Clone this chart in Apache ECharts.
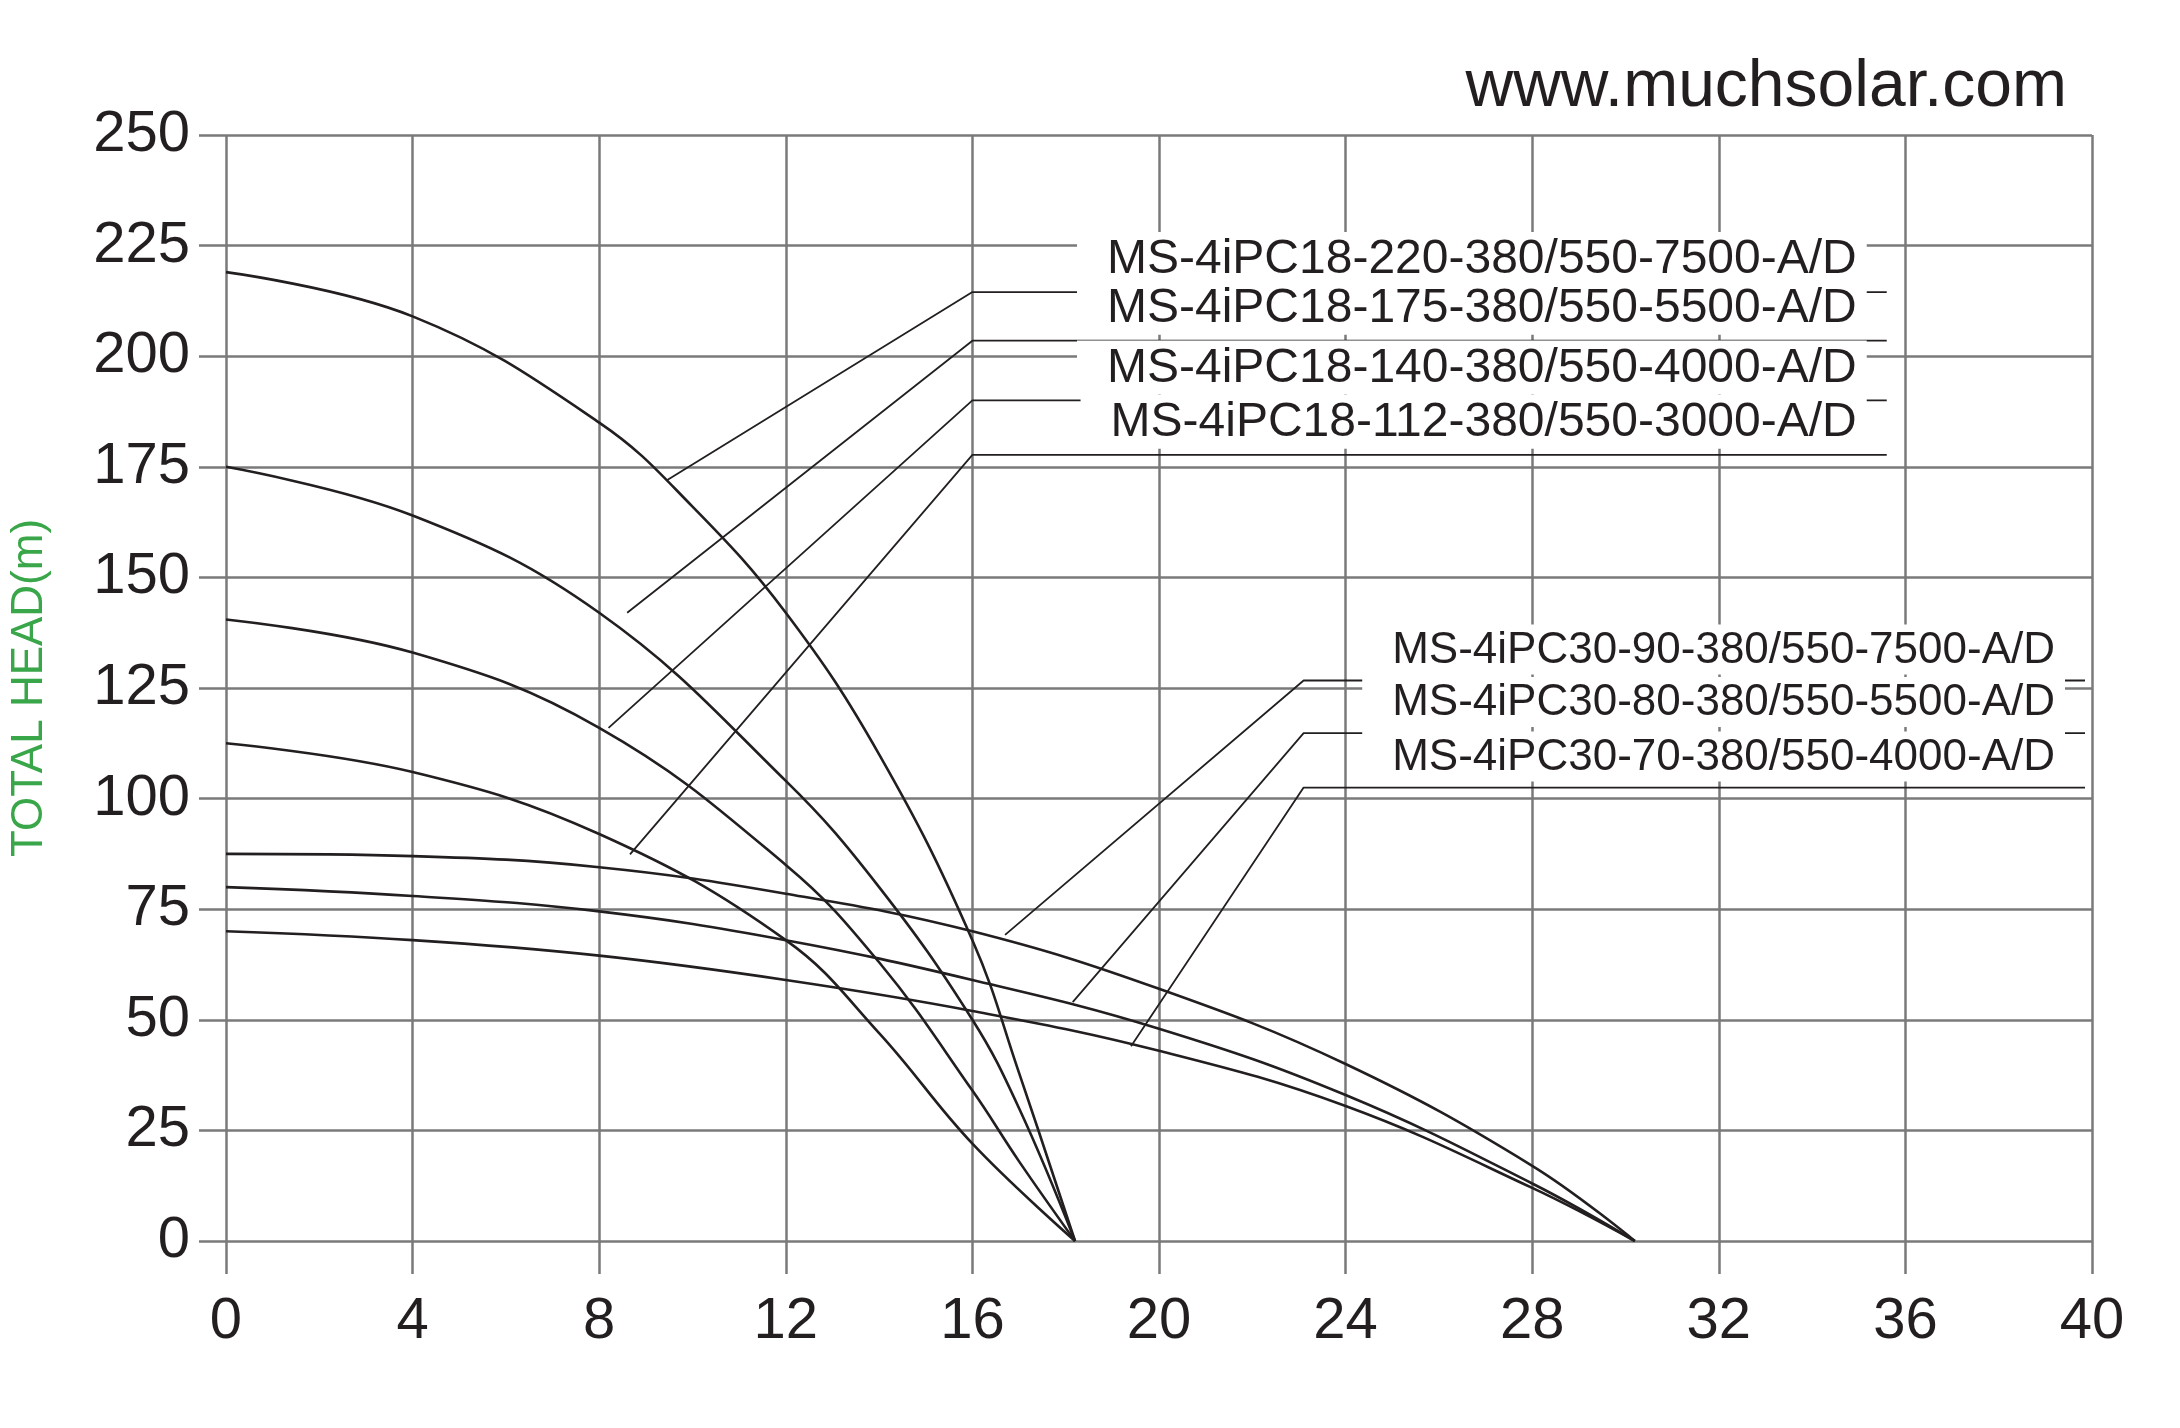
<!DOCTYPE html>
<html>
<head>
<meta charset="utf-8">
<script src="https://cdn.jsdelivr.net/npm/echarts@6/dist/echarts.min.js"></script>
<style>html,body{margin:0;padding:0;background:#fff}#main{width:2180px;height:1428px}</style>
</head>
<body>
<div id="main"></div>
<script>
// pump curves: flow (x) vs total head (m)
const xTicks = [0, 4, 8, 12, 16, 20, 24, 28, 32, 36, 40];
const yTicks = [0, 25, 50, 75, 100, 125, 150, 175, 200, 225, 250];

const names = [
    'MS-4iPC18-220-380/550-7500-A/D',
    'MS-4iPC18-175-380/550-5500-A/D',
    'MS-4iPC18-140-380/550-4000-A/D',
    'MS-4iPC18-112-380/550-3000-A/D',
    'MS-4iPC30-90-380/550-7500-A/D',
    'MS-4iPC30-80-380/550-5500-A/D',
    'MS-4iPC30-70-380/550-4000-A/D'
];

const curve220 = [[0, 219], [4, 209], [8, 185], [10, 166], [12, 142], [14, 110], [16, 68], [17, 38], [18.2, 0]];
const curve175 = [[0, 175], [4, 164], [8, 142], [12, 104], [14, 80], [16, 50], [17, 30], [18.2, 0]];
const curve140 = [[0, 140.5], [4, 133], [8, 116], [12, 85], [14, 63], [16, 34], [17, 18], [18.2, 0]];
const curve112 = [[0, 112.5], [4, 106], [8, 92], [12, 68], [14, 47], [16, 22], [18.2, 0]];
const curve90 = [[0, 87.5], [4, 87], [8, 84.5], [12, 78.5], [16, 70], [20, 57], [24, 40], [28, 17], [30.2, 0]];
const curve80 = [[0, 80], [4, 78], [8, 74.5], [12, 68], [16, 59], [20, 48], [24, 33], [28, 13], [30.2, 0]];
const curve70 = [[0, 70], [4, 68], [8, 64.5], [12, 59], [16, 52], [20, 43], [24, 30.5], [28, 12], [30.2, 0]];
const curves = [curve220, curve175, curve140, curve112, curve90, curve80, curve70];

// leader lines: [point on curve, elbow, end of underline]
const leaders = [
    [[9.46, 172], [16.0, 214.5], [35.6, 214.5]],
    [[8.6, 142], [16.0, 203.5], [35.6, 203.5]],
    [[8.2, 116], [16.0, 190], [35.6, 190]],
    [[8.66, 87.4], [16.0, 177.7], [35.6, 177.7]],
    [[16.7, 69.2], [23.1, 126.7], [39.85, 126.7]],
    [[18.15, 54], [23.1, 114.8], [39.85, 114.8]],
    [[19.4, 44], [23.1, 102.5], [39.85, 102.5]]
];

const chart = echarts.init(document.getElementById('main'));
const FONT = 'Liberation Sans, Arial, sans-serif';
const INK = '#231f20';

const series = curves.map((c, i) => ({
    name: names[i],
    type: 'line',
    data: c,
    smooth: 0.4,
    symbol: 'none',
    lineStyle: { color: INK, width: 2.6 },
    z: 3
}));
leaders.forEach((l, i) => {
    series.push({
        type: 'line',
        data: l,
        symbol: 'none',
        lineStyle: { color: INK, width: 1.8 },
        z: 4,
        silent: true
    });
});

const option = {
    animation: false,
    grid: { left: 217, right: 88, top: 135, bottom: 187 },
    xAxis: {
        type: 'value', min: 0, max: 40, interval: 4,
        axisLine: { show: false },
        axisTick: { show: true, length: 33, lineStyle: { color: '#7a7a7a', width: 2.5 } },
        splitLine: { show: true, lineStyle: { color: '#7a7a7a', width: 2.5 } },
        axisLabel: { color: INK, fontSize: 58, fontFamily: FONT, margin: 52 }
    },
    yAxis: {
        type: 'value', min: 0, max: 250, interval: 25,
        name: 'TOTAL HEAD(m)', nameLocation: 'middle', nameGap: 174,
        nameTextStyle: { color: '#3aa64a', fontSize: 44, fontFamily: FONT },
        axisLine: { show: false },
        axisTick: { show: true, length: 27, lineStyle: { color: '#7a7a7a', width: 2.5 } },
        splitLine: { show: true, lineStyle: { color: '#7a7a7a', width: 2.5 } },
        axisLabel: { color: INK, fontSize: 58, fontFamily: FONT, margin: 36 }
    },
    series: series
};
chart.setOption(option);

// model labels above each underline
const graphics = [{
    type: 'text', right: 113, top: 55, z: 10,
    style: { text: 'www.muchsolar.com', fill: INK, fontSize: 66, fontFamily: FONT }
}];
leaders.forEach((l, i) => {
    const end = chart.convertToPixel({ gridIndex: 0 }, l[2]);
    graphics.push({
        type: 'text', x: end[0] - 20, y: end[1] - 6, z: 10,
        style: {
            text: names[i], fill: INK, fontSize: i < 4 ? 48 : 44, fontFamily: FONT,
            align: 'right', verticalAlign: 'bottom',
            backgroundColor: '#fff', padding: [4, 10, 2, 30]
        }
    });
});
chart.setOption({ graphic: graphics });
</script>
</body>
</html>
